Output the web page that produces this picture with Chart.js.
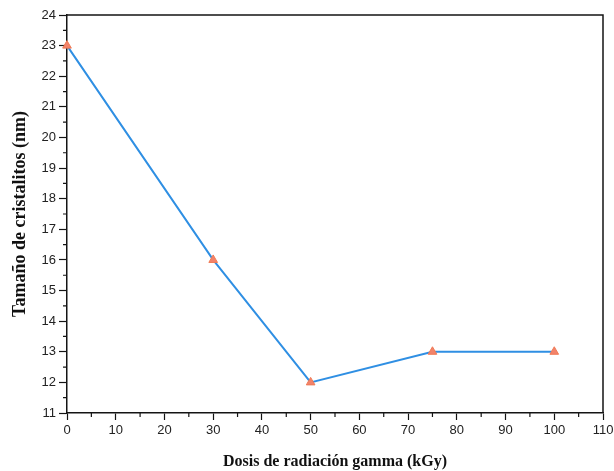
<!DOCTYPE html>
<html>
<head>
<meta charset="utf-8">
<script src="https://cdn.jsdelivr.net/npm/chart.js@4/dist/chart.umd.min.js"></script>
<style>
  html, body { margin: 0; padding: 0; background: #fff; }
  #wrap { width: 614px; height: 471px; position: relative; }
</style>
</head>
<body>
<div id="wrap"><canvas id="c" width="614" height="471"></canvas></div>
<script>
// Crystallite size versus gamma irradiation dose
const doses = [0, 30, 50, 75, 100];          // kGy
const sizes = [23, 16, 12, 13, 13];          // nm
const xTicks = [0, 10, 20, 30, 40, 50, 60, 70, 80, 90, 100, 110];
const yTicks = [11, 12, 13, 14, 15, 16, 17, 18, 19, 20, 21, 22, 23, 24];

const AXIS = '#141414';
const tickFont = { family: '"Liberation Sans", Arial, sans-serif', size: 13 };
const serif = '"Liberation Serif", "Times New Roman", serif';

// Minor ticks between the labelled ones, plus the top and right frame lines
const frame = {
  id: 'frame',
  afterDraw(chart) {
    const { ctx, chartArea: a, scales: { x, y } } = chart;
    ctx.save();
    ctx.strokeStyle = AXIS;
    ctx.lineWidth = 1.5;
    ctx.beginPath();
    ctx.moveTo(a.left, a.top); ctx.lineTo(a.right, a.top); ctx.lineTo(a.right, a.bottom);
    ctx.stroke();
    ctx.lineWidth = 1.2;
    ctx.beginPath();
    for (let i = 0; i < xTicks.length - 1; i++) {
      const px = x.getPixelForValue((xTicks[i] + xTicks[i + 1]) / 2);
      ctx.moveTo(px, a.bottom); ctx.lineTo(px, a.bottom + 4);
    }
    for (let i = 0; i < yTicks.length - 1; i++) {
      const py = y.getPixelForValue((yTicks[i] + yTicks[i + 1]) / 2);
      ctx.moveTo(a.left, py); ctx.lineTo(a.left - 4, py);
    }
    ctx.stroke();
    ctx.restore();
  }
};

new Chart(document.getElementById('c'), {
  type: 'scatter',
  data: {
    datasets: [{
      data: doses.map((d, i) => ({ x: d, y: sizes[i] })),
      showLine: true,
      borderColor: '#2f8fe3',
      borderWidth: 2,
      pointStyle: 'triangle',
      pointRadius: 5,
      pointBackgroundColor: '#f2836b',
      pointBorderColor: '#f07a55',
      pointBorderWidth: 1,
      tension: 0,
      clip: false
    }]
  },
  options: {
    responsive: false,
    animation: false,
    layout: { padding: { top: 15, right: 0, left: 0, bottom: 0 } },
    plugins: { legend: { display: false }, tooltip: { enabled: false } },
    scales: {
      x: {
        type: 'linear',
        min: 0, max: 110,
        afterBuildTicks: s => { s.ticks = xTicks.map(v => ({ value: v })); },
        afterFit: s => { s.height = 58; s.paddingRight = 11; },
        border: { color: AXIS, width: 1.5 },
        grid: { drawOnChartArea: false, tickLength: 7, tickColor: AXIS, tickWidth: 1.2 },
        ticks: { color: '#222', font: tickFont, padding: 3, maxRotation: 0 },
        title: { display: true, text: 'Dosis de radiación gamma (kGy)', color: '#111',
                 font: { family: serif, size: 16, weight: 'bold' }, padding: { top: 6, bottom: 0 } }
      },
      y: {
        type: 'linear',
        min: 11, max: 24,
        afterBuildTicks: s => { s.ticks = yTicks.map(v => ({ value: v })); },
        afterFit: s => { s.width = 67; },
        border: { color: AXIS, width: 1.5 },
        grid: { drawOnChartArea: false, tickLength: 8, tickColor: AXIS, tickWidth: 1.2 },
        ticks: { color: '#222', font: tickFont, padding: 3 },
        title: { display: true, text: 'Tamaño de cristalitos (nm)', color: '#111',
                 font: { family: serif, size: 18, weight: 'bold' }, padding: { top: 10, bottom: 4 } }
      }
    }
  },
  plugins: [frame]
});
</script>
</body>
</html>
